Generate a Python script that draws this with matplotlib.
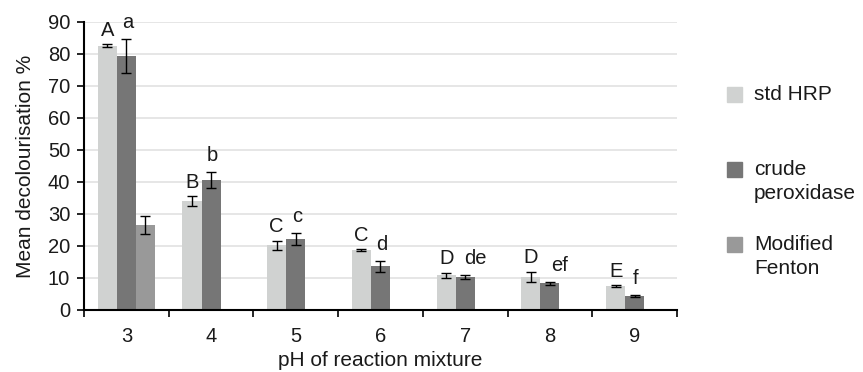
import matplotlib.pyplot as plt
import numpy as np
from matplotlib.patches import Rectangle

plt.rcParams['font.family'] = ['Liberation Sans', 'DejaVu Sans']

ph = ['3', '4', '5', '6', '7', '8', '9']
std_hrp = [82.6, 34.1, 20.3, 18.7, 10.9, 10.3, 7.5]
std_hrp_err = [0.4, 1.5, 1.4, 0.4, 0.8, 1.7, 0.3]
crude = [79.3, 40.6, 22.3, 13.7, 10.4, 8.3, 4.4]
crude_err = [5.3, 2.5, 1.9, 1.7, 0.6, 0.4, 0.3]
fenton = [26.6, np.nan, np.nan, np.nan, np.nan, np.nan, np.nan]
fenton_err = [2.8, np.nan, np.nan, np.nan, np.nan, np.nan, np.nan]
std_letters = ['A', 'B', 'C', 'C', 'D', 'D', 'E']
crude_letters = ['a', 'b', 'c', 'd', 'de', 'ef', 'f']
series_names = ['std HRP', 'crude\nperoxidase', 'Modified\nFenton']
colors = ['#d0d2d1', '#767676', '#999999']

W, H = 863, 372
fig = plt.figure(figsize=(W / 100, H / 100), dpi=100)
ax = fig.add_axes([0.0973, 0.1667, 0.6872, 0.7742])

x = np.arange(len(ph))
w = 0.225
ekw = dict(ecolor='black', elinewidth=1, capsize=3.5, capthick=1)
ax.bar(x - w, std_hrp, w, yerr=std_hrp_err, color=colors[0], error_kw=ekw, zorder=2)
ax.bar(x, crude, w, yerr=crude_err, color=colors[1], error_kw=ekw, zorder=2)
ax.bar(x + w, fenton, w, yerr=fenton_err, color=colors[2], error_kw=ekw, zorder=2)

for i in range(len(ph)):
    ax.annotate(std_letters[i], (x[i] - w, std_hrp[i] + std_hrp_err[i]), xytext=(0, 3),
                textcoords='offset points', ha='center', va='bottom', fontsize=14.5, color='#1a1a1a')
    lab = crude_letters[i]
    ax.annotate(lab, (x[i], crude[i] + crude_err[i]), xytext=(7 if len(lab) > 1 else 1, 5),
                textcoords='offset points', ha='center', va='bottom', fontsize=14.5, color='#1a1a1a')

ax.set_xlim(-0.5, len(ph) - 0.5)
ax.set_ylim(0, 90)
ax.set_yticks(range(0, 91, 10))
ax.set_xticks(x)
ax.set_xticklabels(ph)
ax.set_xticks(np.arange(-0.5, len(ph), 1), minor=True)
ax.tick_params(axis='x', which='major', length=0, pad=12, labelsize=14.5, labelcolor='#1a1a1a')
ax.tick_params(axis='x', which='minor', length=5, width=1.2, direction='out')
ax.tick_params(axis='y', length=5, width=1.2, labelsize=14.5, pad=5, labelcolor='#1a1a1a')
ax.yaxis.grid(True, color='#e2e2e2', linewidth=1.2, zorder=0)
ax.set_axisbelow(True)
for s in ['top', 'right']:
    ax.spines[s].set_visible(False)
for s in ['left', 'bottom']:
    ax.spines[s].set_linewidth(1.5)

ax.set_xlabel('pH of reaction mixture', fontsize=15, labelpad=4, color='#1a1a1a')
ax.set_ylabel('Mean decolourisation %', fontsize=15, labelpad=9, color='#1a1a1a')

# legend drawn by hand so the swatch sits beside the first line of each label
sq = 15
for k, (name, col) in enumerate(zip(series_names, colors)):
    cy = 94 + 75 * k
    fig.patches.append(Rectangle((727 / W, 1 - (cy + sq / 2) / H), sq / W, sq / H,
                                 transform=fig.transFigure, color=col))
    fig.text(754 / W, 1 - (cy - 9) / H, name, fontsize=15, va='top', ha='left',
             color='#1a1a1a', linespacing=1.3)

fig.savefig('out.png', dpi=100)
